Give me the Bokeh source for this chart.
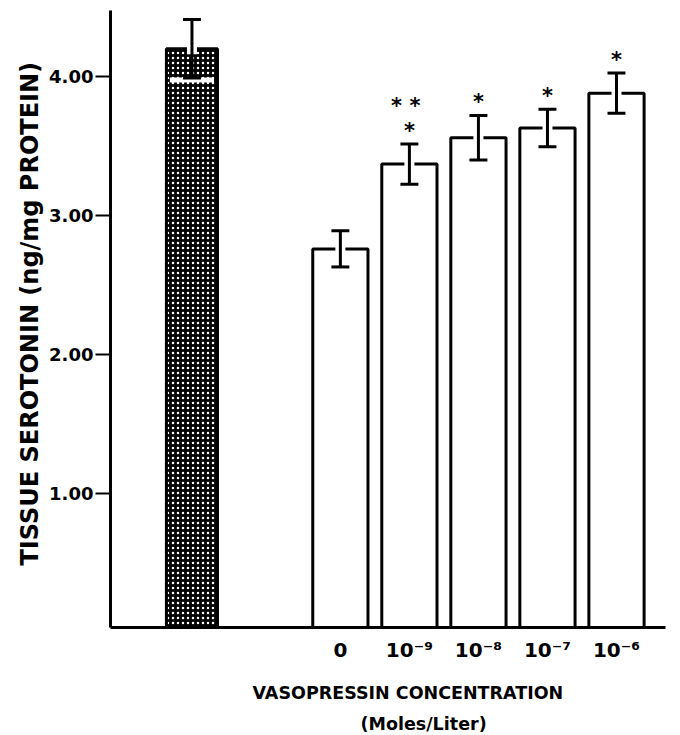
from bokeh.plotting import figure
from bokeh.models import FixedTicker, Title, ColumnDataSource, Range1d
from bokeh.core.properties import value
from bokeh.embed import file_html
from bokeh.resources import INLINE

# ---- data ----
groups = ["Control", "0", "1e-9", "1e-8", "1e-7", "1e-6"]
x_tick_labels = ["", "0", "10\u207b\u2079", "10\u207b\u2078", "10\u207b\u2077", "10\u207b\u2076"]
means = [4.20, 2.76, 3.37, 3.56, 3.63, 3.88]
sems = [0.21, 0.13, 0.145, 0.16, 0.135, 0.145]
star_rows = [[], [], ["*", "*  *"], ["*"], ["*"], ["*"]]
y_ticks = [1, 2, 3, 4]
y_tick_labels = ["1.00", "2.00", "3.00", "4.00"]

# ---- layout positions ----
CONTROL_POS = -2.15
xs = [CONTROL_POS] + [float(i) for i in range(len(groups) - 1)]
widths = [0.74] + [0.8] * (len(groups) - 1)
FONT = "DejaVu Sans"

p = figure(width=680, height=735, x_range=Range1d(-3.33, 4.71), y_range=Range1d(0.036, 4.475),
           output_backend="svg", toolbar_location=None,
           min_border_left=110, min_border_right=15, min_border_top=10, min_border_bottom=108)
p.grid.visible = False
p.outline_line_color = None
p.background_fill_color = "white"
p.border_fill_color = "white"

# bars
ctrl = ColumnDataSource(dict(x=xs[:1], top=means[:1], w=widths[:1]))
exp = ColumnDataSource(dict(x=xs[1:], top=means[1:], w=widths[1:]))
p.vbar(x="x", top="top", width="w", bottom=0, source=exp, fill_color="white",
       line_color="black", line_width=3)
p.vbar(x="x", top="top", width="w", bottom=0, source=ctrl, fill_color="black",
       hatch_pattern="dot", hatch_color="white", hatch_scale=5, hatch_weight=3.4,
       line_color="black", line_width=3)

# error bars
lower = [m - s for m, s in zip(means, sems)]
upper = [m + s for m, s in zip(means, sems)]
cap = 0.13
halo_src = ColumnDataSource(dict(x=xs, y0=[m - 0.04 for m in means], y1=upper))
p.segment(x0="x", y0="y0", x1="x", y1="y1", source=halo_src, line_color="white", line_width=10)
p.segment(x0=[xs[0] - widths[0] / 2 + 0.05], y0=[lower[0] - 0.015], x1=[xs[0] + widths[0] / 2 - 0.05],
          y1=[lower[0] - 0.015], line_color="white", line_width=5)
err = ColumnDataSource(dict(x=xs, lo=lower, hi=upper,
                            xl=[x - cap for x in xs], xr=[x + cap for x in xs]))
p.segment(x0="x", y0="lo", x1="x", y1="hi", source=err, line_color="black", line_width=3)
p.segment(x0="xl", y0="hi", x1="xr", y1="hi", source=err, line_color="black", line_width=3)
p.segment(x0="xl", y0="lo", x1="xr", y1="lo", source=err, line_color="black", line_width=3)

# significance stars
sx, sy, st = [], [], []
for x, u, rows in zip(xs, upper, star_rows):
    for k, r in enumerate(rows):
        sx.append(x)
        sy.append(u + 0.115 + 0.18 * k)
        st.append(r)
p.text(x=sx, y=sy, text=st, text_align="center", text_baseline="alphabetic", y_offset=3,
       text_font=value(FONT), text_font_style="bold", text_font_size="21px", text_color="black")

# y axis
ya = p.yaxis[0]
ya.ticker = FixedTicker(ticks=y_ticks)
ya.major_label_overrides = {t: l for t, l in zip(y_ticks, y_tick_labels)}
ya.major_tick_out = 15
ya.major_tick_in = 0
ya.major_tick_line_width = 2
ya.minor_tick_line_color = None
ya.axis_line_width = 3
ya.major_label_standoff = 2
ya.major_label_text_font = FONT
ya.major_label_text_font_style = "bold"
ya.major_label_text_font_size = "18px"
ya.major_label_text_color = "black"

# x axis
xa = p.xaxis[0]
xa.ticker = FixedTicker(ticks=xs[1:])
xa.major_label_overrides = {int(t): l for t, l in zip(xs[1:], x_tick_labels[1:])}
xa.major_tick_out = 0
xa.major_tick_in = 0
xa.minor_tick_line_color = None
xa.axis_line_width = 3
xa.major_label_standoff = 10
xa.major_label_text_font = FONT
xa.major_label_text_font_style = "bold"
xa.major_label_text_font_size = "20px"
xa.major_label_text_color = "black"

# axis titles
t1 = Title(text="VASOPRESSIN CONCENTRATION", align="left", offset=142,
           text_font=FONT, text_font_style="bold", text_font_size="17.5px",
           text_color="black", standoff=33)
t2 = Title(text="(Moles/Liter)", align="left", offset=250,
           text_font=FONT, text_font_style="bold", text_font_size="17.5px",
           text_color="black", standoff=-15)
p.add_layout(t1, "below")
p.add_layout(t2, "below")
ty = Title(text="TISSUE SEROTONIN  (ng/mg PROTEIN)", align="left", offset=62,
           text_font=FONT, text_font_style="bold", text_font_size="24px",
           text_color="black", standoff=6)
p.add_layout(ty, "left")

open("out.html", "w").write(file_html(p, INLINE))
